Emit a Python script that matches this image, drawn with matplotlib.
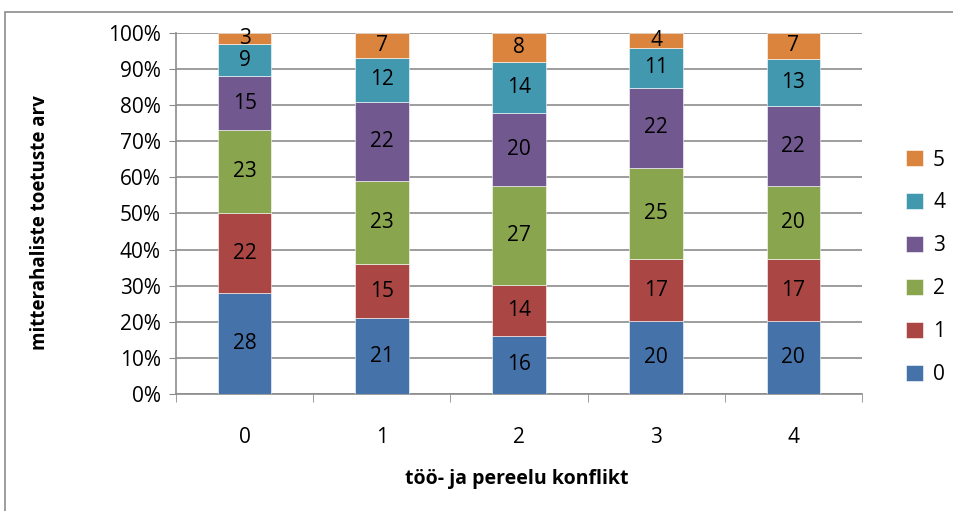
import matplotlib.pyplot as plt
import numpy as np
from matplotlib.patches import Rectangle

plt.rcParams['font.family'] = ['Open Sans', 'DejaVu Sans']

# categories on x axis
categories = ['0', '1', '2', '3', '4']
# stacked series (legend labels) and their percentage values per category
series_names = ['0', '1', '2', '3', '4', '5']
s0 = [28, 21, 16, 20, 20]
s1 = [22, 15, 14, 17, 17]
s2 = [23, 23, 27, 25, 20]
s3 = [15, 22, 20, 22, 22]
s4 = [9, 12, 14, 11, 13]
s5 = [3, 7, 8, 4, 7]
series = [s0, s1, s2, s3, s4, s5]
colors = ['#4672AA', '#AA4643', '#89A54E', '#71588F', '#4198AF', '#DB843D']

data = np.array(series, dtype=float)
shares = data / data.sum(axis=0)  # 100% stacked

fig = plt.figure(figsize=(9.54, 5.11), dpi=100)
ax = fig.add_axes([0.1845, 0.229, 0.719, 0.7064])

# outer chart frame
fig.patches.append(Rectangle((5 / 954, -0.1), 1.2, 1 - 12 / 511 + 0.1,
                             transform=fig.transFigure, fill=False,
                             edgecolor='#8c8c8c', linewidth=1.2))

x = np.arange(len(categories))
bottom = np.zeros(len(categories))
for name, vals, share, col in zip(series_names, series, shares, colors):
    bars = ax.bar(x, share, 0.39, bottom=bottom, color=col, label=name,
                  edgecolor='white', linewidth=0.4, zorder=3)
    for xi, b, s, v in zip(x, bottom, share, vals):
        ax.text(xi, b + s / 2, str(v), ha='center', va='center',
                fontsize=15, color='black', zorder=4)
    bottom += share

ax.set_xlim(-0.5, 4.5)
ax.set_ylim(0, 1)
ax.set_yticks(np.arange(0, 1.01, 0.1))
ax.set_yticklabels([f'{int(round(v * 100))}%' for v in np.arange(0, 1.01, 0.1)], fontsize=15)
ax.yaxis.grid(True, color='#8c8c8c', linewidth=1.2, zorder=0)
ax.tick_params(axis='y', length=5, color='#8c8c8c', pad=6)

ax.set_xticks(x)
ax.set_xticklabels(categories, fontsize=15)
ax.set_xticks(np.arange(-0.5, 5, 1), minor=True)
ax.tick_params(axis='x', which='major', length=0, pad=24)
ax.tick_params(axis='x', which='minor', length=6, color='#8c8c8c')

for side in ['top', 'right']:
    ax.spines[side].set_visible(False)
for side in ['left', 'bottom']:
    ax.spines[side].set_color('#8c8c8c')
    ax.spines[side].set_linewidth(1.2)

ax.set_xlabel('töö- ja pereelu konflikt', fontsize=14, fontweight='bold')
ax.xaxis.set_label_coords(0.497, -0.208)
ax.set_ylabel('mitterahaliste toetuste arv', fontsize=13.5, fontweight='bold')
ax.yaxis.set_label_coords(-0.183, 0.476)

handles, labels = ax.get_legend_handles_labels()
leg = fig.legend(handles[::-1], labels[::-1], loc='center left',
                 bbox_to_anchor=(0.93, 0.477), frameon=False, fontsize=15,
                 handlelength=0.8, handleheight=0.8, labelspacing=1.05,
                 handletextpad=0.5)

fig.savefig('out.png', dpi=100)
